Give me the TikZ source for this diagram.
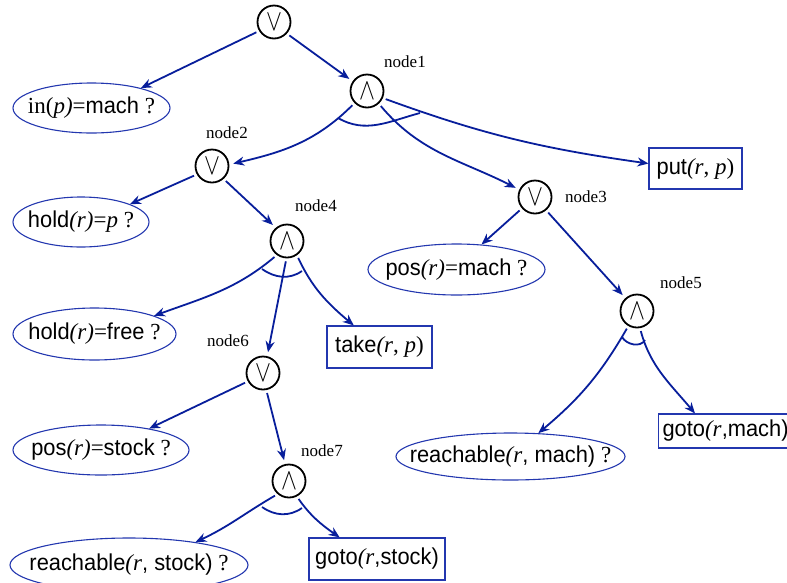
\documentclass[tikz,border=0pt]{standalone}
\usepackage{fontspec}
\usepackage{graphicx}
\setmainfont{Liberation Serif}
\setsansfont[FakeStretch=0.95]{Liberation Sans}
\usetikzlibrary{arrows.meta,shapes.geometric,calc}
\definecolor{edgeblue}{RGB}{8,30,155}
\definecolor{ringblue}{RGB}{35,55,175}
\newcommand{\opor}{\scalebox{1.15}[1.45]{$\vee$}}
\newcommand{\opand}{\scalebox{1.15}[1.45]{$\wedge$}}

\begin{document}
\begin{tikzpicture}[x=1pt,y=1pt,
  every node/.style={font=\fontsize{23}{27}\selectfont},
  opnode/.style={circle,draw=black,line width=1.8pt,minimum size=33pt,inner sep=0pt,
                 font=\fontsize{20}{20}\selectfont},
  goal/.style={ellipse,draw=ringblue,line width=1.1pt,inner sep=0pt},
  action/.style={rectangle,draw=ringblue,line width=1.1pt,inner sep=0pt},
  lab/.style={font=\fontsize{17}{20}\selectfont\rmfamily},
  link/.style={draw=edgeblue,line width=1.8pt,-{Stealth[length=11pt,width=9pt]},shorten <=3pt},
  tocirc/.style={shorten >=4pt},
  andarc/.style={draw=edgeblue,line width=1.8pt}]

% ---- frame ----
\useasboundingbox (0,0) rectangle (787,-582);
\clip (0,0) rectangle (787,-582);

% ---- and/or nodes ----
\node[opnode] (root) at (274,-22)  {\opor};
\node[opnode] (n1)   at (367,-91)  {\opand};
\node[opnode] (n2)   at (212,-166) {\opor};
\node[opnode] (n3)   at (535,-197) {\opor};
\node[opnode] (n4)   at (287,-241) {\opand};
\node[opnode] (n5)   at (637,-311) {\opand};
\node[opnode] (n6)   at (263,-373) {\opor};
\node[opnode] (n7)   at (289,-481) {\opand};

% node names
\foreach \n/\p in {1/{(405,-62)},2/{(227,-133)},3/{(586,-197)},4/{(316,-206)},
                   5/{(681,-283)},6/{(228,-341)},7/{(322,-451)}} {
    \node[lab] (t\n) at \p {node\n};
}

% ---- tests (ellipses) ----
\node[goal,minimum width=157pt,minimum height=50pt] (inq) at (91.5,-108)
   {\makebox[0pt]{in(\textit{p)}=\textsf{mach} ?}};
\node[goal,minimum width=136pt,minimum height=50pt] (holdp) at (81,-222)
   {\makebox[0pt]{\textsf{hold}\textit{(r)}=\textit{p} ?}};
\node[goal,minimum width=163pt,minimum height=52pt] (holdf) at (94.5,-334)
   {\makebox[0pt]{\textsf{hold}\textit{(r)}=\textsf{free} ?}};
\node[goal,minimum width=177pt,minimum height=51pt] (posm) at (456.5,-269.5)
   {\makebox[0pt]{\textsf{pos}\textit{(r)}=\textsf{mach} ?}};
\node[goal,minimum width=176pt,minimum height=50pt] (poss) at (101,-450)
   {\makebox[0pt]{\textsf{pos}\textit{(r)}=\textsf{stock} ?}};
\node[goal,minimum width=229pt,minimum height=47pt] (reachm) at (510.5,-456.5)
   {\makebox[0pt]{\textsf{reachable}\textit{(r}\textsf{, mach)} ?}};
\node[goal,minimum width=238pt,minimum height=54pt] (reachs) at (129,-565)
   {\makebox[0pt]{\textsf{reachable}\textit{(r}\textsf{, stock)} ?}};

% ---- actions (boxes) ----
\node[action,minimum width=93pt,minimum height=41pt] (put) at (695.5,-168.5)
   {\textsf{put}\textit{(r}, \textit{p})};
\node[action,minimum width=105pt,minimum height=42pt] (take) at (379.5,-347)
   {\textsf{take}\textit{(r}, \textit{p})};
\node[action,anchor=west,inner xsep=4pt,text width=132pt,align=left,minimum height=34pt]
   (gotom) at (658,-431) {\textsf{goto}\textit{(r}\textsf{,mach)}};
\node[action,minimum width=136pt,minimum height=42pt] (gotos) at (377,-559)
   {\textsf{goto}\textit{(r}\textsf{,stock)}};

% ---- connectors ----
\draw[link] (root.211) -- (inq.22);
\draw[link,tocirc] (root.-42) -- (n1.146);
\draw[link,tocirc] (n1.224) to[out=225,in=13] (n2.5);
\draw[link,tocirc] (n1.-47) to[out=-50,in=153] (n3.155);
\draw[link] (n1.-24) to[out=-20,in=172] ([yshift=5pt]put.west);
\draw[link] (n2.209) -- (holdp.20);
\draw[link,tocirc] (n2.-48) -- (n4.130);
\draw[link] (n4.234) to[out=220,in=20] (holdf.17);
\draw[link,tocirc] (n4.268) -- (n6.76);
\draw[link] (n4.-55) to[out=-65,in=140] (take.140);
\draw[link] (n3.221) -- (posm.45);
\draw[link,tocirc] (n3.-50) -- (n5.132);
\draw[link] (n5.240) to[out=240,in=40] (reachm.40);
\draw[link] (n5.-80) to[out=-75,in=130] ([xshift=37pt]gotom.north west);
\draw[link] (n6.209) -- (poss.24);
\draw[link,tocirc] (n6.-79) -- (n7.103);
\draw[link] (n7.229) to[out=210,in=25] (reachs.19);
\draw[link] (n7.-63) to[out=-55,in=145] (gotos.150);

% ---- and-arcs ----
\draw[andarc] ($(n1)+(-29,-27)$) to[out=-30,in=195] ($(n1)+(53,-22)$);
\draw[andarc] ($(n4)+(-25,-28)$) to[out=-35,in=215] ($(n4)+(15,-30)$);
\draw[andarc] ($(n5)+(-15,-26)$) to[out=-60,in=240] ($(n5)+(8,-29)$);
\draw[andarc] ($(n7)+(-27,-26)$) to[out=-35,in=215] ($(n7)+(13,-27)$);

\end{tikzpicture}
\end{document}
